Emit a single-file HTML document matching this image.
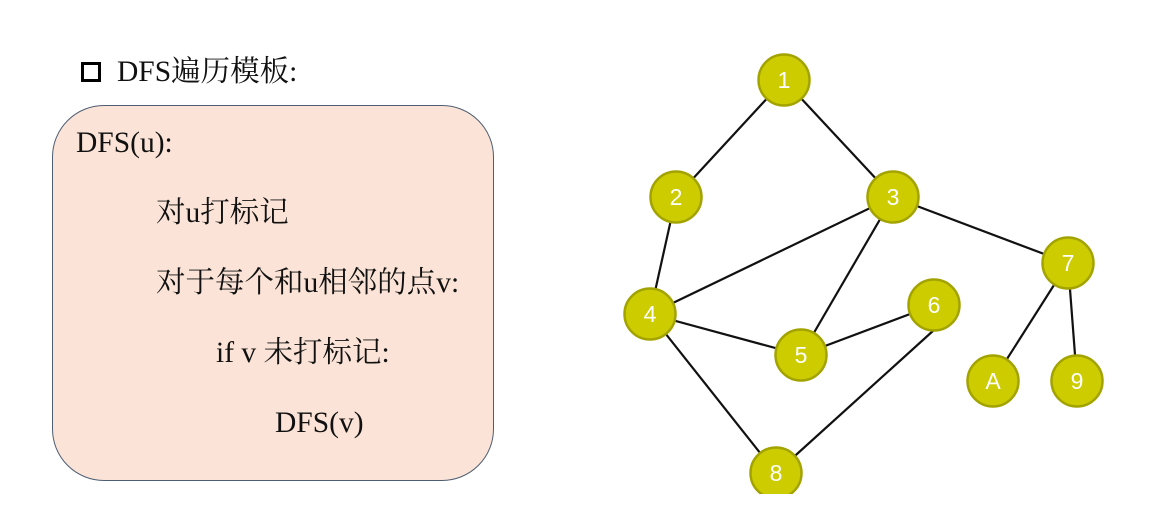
<!DOCTYPE html>
<html><head><meta charset="utf-8"><style>
body{margin:0;width:1165px;height:529px;background:#fff;overflow:hidden;position:relative;font-family:"Liberation Serif","Noto Serif CJK SC",serif;color:#111}
.t{position:absolute;font-size:29.5px;line-height:1;white-space:nowrap}
.box{position:absolute;left:52px;top:105px;width:440px;height:374px;border:1.5px solid #4d5d73;border-radius:52px;background:#fbe4d7}
.cb{position:absolute;left:81px;top:62px;width:14px;height:14px;border:3.5px solid #000}
</style></head><body>
<div class="cb"></div>
<div class="t" style="left:117px;top:58px">DFS遍历模板:</div>
<div class="box"></div>
<div class="t" style="left:76px;top:129px">DFS(u):</div>
<div class="t" style="left:156px;top:199px">对u打标记</div>
<div class="t" style="left:156px;top:269px">对于每个和u相邻的点v:</div>
<div class="t" style="left:216px;top:339px">if v 未打标记:</div>
<div class="t" style="left:275px;top:409px">DFS(v)</div>
<svg width="1165" height="494" style="position:absolute;left:0;top:0" font-family="Liberation Sans, sans-serif">
<g stroke="#111" stroke-width="2.2">
<line x1="784" y1="80" x2="676" y2="197"/>
<line x1="784" y1="80" x2="893" y2="197"/>
<line x1="676" y1="197" x2="650" y2="314"/>
<line x1="893" y1="197" x2="650" y2="314"/>
<line x1="893" y1="197" x2="801" y2="355"/>
<line x1="893" y1="197" x2="1068" y2="263"/>
<line x1="650" y1="314" x2="801" y2="355"/>
<line x1="650" y1="314" x2="776" y2="473"/>
<line x1="801" y1="355" x2="934" y2="305"/>
<line x1="934" y1="330" x2="776" y2="473"/>
<line x1="1068" y1="263" x2="993" y2="381"/>
<line x1="1068" y1="263" x2="1077" y2="381"/>
</g>
<g fill="#cccc00" stroke="#a3a300" stroke-width="2.5">
<circle cx="784" cy="80" r="25.5"/><circle cx="676" cy="197" r="25.5"/><circle cx="893" cy="197" r="25.5"/>
<circle cx="1068" cy="263" r="25.5"/><circle cx="650" cy="314" r="25.5"/><circle cx="934" cy="305" r="25.5"/>
<circle cx="801" cy="355" r="25.5"/><circle cx="993" cy="381" r="25.5"/><circle cx="1077" cy="381" r="25.5"/>
<circle cx="776" cy="473" r="25.5"/>
</g>
<g fill="#fff" font-size="23" text-anchor="middle">
<text x="784" y="88">1</text><text x="676" y="205">2</text><text x="893" y="205">3</text>
<text x="1068" y="271">7</text><text x="650" y="322">4</text><text x="934" y="313">6</text>
<text x="801" y="363">5</text><text x="993" y="389">A</text><text x="1077" y="389">9</text>
<text x="776" y="481">8</text>
</g>
</svg>
</body></html>
